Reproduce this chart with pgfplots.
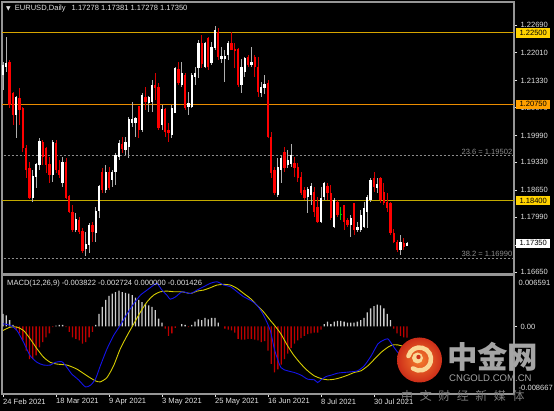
\documentclass[border=0pt]{standalone}
\usepackage{pgfplots}
\pgfplotsset{compat=1.18}
\usepackage{pgfplotstable}
\usepackage{fontspec}
\setmainfont{Liberation Sans}
\newfontfamily\dejavu{DejaVu Sans}
\newfontfamily\cjk{Noto Sans CJK SC}
\definecolor{framec}{RGB}{150,150,150}
\definecolor{labc}{RGB}{225,225,225}
\definecolor{wickup}{RGB}{175,175,175}
\definecolor{canddn}{RGB}{255,0,0}
\definecolor{wickdn}{RGB}{215,0,0}
\definecolor{lineA}{RGB}{215,165,0}
\definecolor{lineB}{RGB}{235,140,0}
\definecolor{lineC}{RGB}{195,170,0}
\definecolor{boxA}{RGB}{255,210,0}
\definecolor{boxB}{RGB}{255,160,0}
\definecolor{fibc}{RGB}{140,140,140}
\definecolor{histup}{RGB}{205,205,205}
\definecolor{histdn}{RGB}{190,0,0}
\definecolor{macdc}{RGB}{20,20,235}
\definecolor{sigc}{RGB}{215,205,0}
\definecolor{wm}{RGB}{165,165,165}
\definecolor{wm2}{RGB}{125,125,125}
\definecolor{logoA}{RGB}{245,125,45}
\definecolor{logoB}{RGB}{205,45,25}
\definecolor{cream}{RGB}{250,215,150}
\newcommand\tf{\fontsize{7.6}{9}\selectfont}

\pgfplotstableread{
i o h l c
0 1.2147 1.2178 1.2110 1.2171
1 1.2166 1.2240 1.2154 1.2176
4 1.2049 1.2095 1.1993 1.2093
9 1.1846 1.1914 1.1836 1.1900
10 1.1897 1.1931 1.1870 1.1929
11 1.1926 1.1993 1.1914 1.1985
15 1.1902 1.1988 1.1885 1.1983
18 1.1882 1.1946 1.1873 1.1934
22 1.1768 1.1809 1.1763 1.1794
25 1.1721 1.1763 1.1704 1.1733
26 1.1731 1.1785 1.1711 1.1780
28 1.1760 1.1824 1.1738 1.1814
29 1.1814 1.1878 1.1797 1.1875
31 1.1865 1.1926 1.1858 1.1909
33 1.1890 1.1914 1.1873 1.1909
34 1.1909 1.1956 1.1878 1.1951
35 1.1946 1.1988 1.1939 1.1980
37 1.1963 1.1995 1.1951 1.1983
38 1.1971 1.2044 1.1944 1.2039
39 1.2029 1.2081 1.2019 1.2039
40 1.2029 1.2044 1.1995 1.2042
42 1.2012 1.2103 1.2007 1.2098
44 1.2078 1.2095 1.2056 1.2093
45 1.2081 1.2134 1.2056 1.2122
48 1.2024 1.2073 1.2012 1.2063
51 1.2000 1.2073 1.1993 1.2066
52 1.2054 1.2166 1.2054 1.2164
54 1.2122 1.2178 1.2117 1.2151
56 1.2068 1.2105 1.2049 1.2078
57 1.2068 1.2151 1.2066 1.2147
58 1.2142 1.2166 1.2122 1.2151
59 1.2164 1.2232 1.2139 1.2225
61 1.2166 1.2227 1.2164 1.2225
63 1.2176 1.2227 1.2171 1.2215
64 1.2213 1.2267 1.2208 1.2257
66 1.2186 1.2215 1.2176 1.2193
67 1.2186 1.2208 1.2129 1.2193
68 1.2196 1.2230 1.2183 1.2225
72 1.2122 1.2186 1.2103 1.2166
73 1.2154 1.2191 1.2142 1.2188
75 1.2171 1.2215 1.2166 1.2178
78 1.2103 1.2129 1.2093 1.2117
79 1.2115 1.2147 1.2100 1.2125
83 1.1853 1.1944 1.1848 1.1922
84 1.1914 1.1951 1.1882 1.1944
86 1.1926 1.1963 1.1919 1.1939
87 1.1929 1.1978 1.1921 1.1951
92 1.1848 1.1873 1.1809 1.1868
93 1.1853 1.1882 1.1829 1.1875
96 1.1787 1.1873 1.1785 1.1846
97 1.1848 1.1885 1.1841 1.1882
100 1.1775 1.1846 1.1772 1.1841
105 1.1780 1.1804 1.1750 1.1797
107 1.1768 1.1787 1.1763 1.1775
108 1.1768 1.1816 1.1763 1.1804
109 1.1775 1.1836 1.1772 1.1821
110 1.1812 1.1853 1.1772 1.1848
111 1.1841 1.1895 1.1836 1.1890
113 1.1870 1.1895 1.1858 1.1880
120 1.1719 1.1755 1.1706 1.1738
122 1.17278 1.17381 1.17278 1.17350
}\upT

\pgfplotstableread{
i o h l c
2 1.2178 1.2183 1.2066 1.2073
3 1.2103 1.2105 1.2024 1.2049
5 1.2090 1.2115 1.2024 1.2061
6 1.2066 1.2068 1.1958 1.1968
7 1.1968 1.1975 1.1895 1.1914
8 1.1919 1.1934 1.1844 1.1846
12 1.1983 1.1988 1.1926 1.1946
13 1.1968 1.1970 1.1907 1.1926
14 1.1929 1.1946 1.1882 1.1902
16 1.1980 1.1988 1.1907 1.1914
17 1.1914 1.1938 1.1895 1.1902
19 1.1934 1.1944 1.1844 1.1846
20 1.1851 1.1853 1.1809 1.1812
21 1.1812 1.1829 1.1763 1.1768
23 1.1792 1.1799 1.1758 1.1763
24 1.1765 1.1772 1.1711 1.1716
27 1.1780 1.1787 1.1738 1.1763
30 1.1909 1.1919 1.1858 1.1865
32 1.1909 1.1921 1.1865 1.1870
36 1.1978 1.1995 1.1956 1.1966
41 1.2071 1.2071 1.1993 1.2012
43 1.2093 1.2117 1.2061 1.2081
46 1.2122 1.2151 1.2085 1.2115
47 1.2117 1.2127 1.2012 1.2017
49 1.2063 1.2066 1.1995 1.2007
50 1.2012 1.2029 1.1983 1.2005
53 1.2161 1.2178 1.2122 1.2127
55 1.2147 1.2151 1.2061 1.2066
60 1.2225 1.2244 1.2164 1.2173
62 1.2237 1.2240 1.2159 1.2166
65 1.2252 1.2262 1.2183 1.2191
69 1.2225 1.2252 1.2208 1.2208
70 1.2210 1.2225 1.2164 1.2205
71 1.2210 1.2213 1.2117 1.2122
74 1.2191 1.2196 1.2166 1.2171
76 1.2191 1.2196 1.2142 1.2166
77 1.2166 1.2191 1.2093 1.2105
80 1.2127 1.2134 1.1993 1.1995
81 1.1995 1.2007 1.1895 1.1907
82 1.1914 1.1922 1.1853 1.1858
85 1.1958 1.1970 1.1909 1.1919
88 1.1931 1.1946 1.1897 1.1919
89 1.1922 1.1931 1.1885 1.1895
90 1.1897 1.1909 1.1853 1.1858
91 1.1865 1.1873 1.1841 1.1846
94 1.1860 1.1873 1.1799 1.1812
95 1.1824 1.1848 1.1785 1.1787
98 1.1875 1.1882 1.1841 1.1858
99 1.1858 1.1878 1.1792 1.1797
101 1.1836 1.1841 1.1799 1.1804
103 1.1829 1.1829 1.1768 1.1787
104 1.1792 1.1797 1.1775 1.1780
106 1.1834 1.1834 1.1755 1.1768
112 1.1895 1.1909 1.1860 1.1873
114 1.1895 1.1897 1.1834 1.1841
115 1.1860 1.1882 1.1829 1.1834
116 1.1836 1.1858 1.1812 1.1821
117 1.1834 1.1836 1.1755 1.1760
118 1.1760 1.1770 1.1736 1.1738
119 1.1738 1.1743 1.1714 1.1719
121 1.1736 1.1748 1.1719 1.1726
}\dnT

\pgfplotstableread{
i o h l c
102 1.1807 1.1824 1.1792 1.1807
}\gnT

\pgfplotstableread{
i v
0 0.0016
1 0.0014
2 0.0008
3 0.0002
4 -0.0005
5 -0.0009
6 -0.0018
7 -0.0031
8 -0.0042
9 -0.0042
10 -0.0037
11 -0.0027
12 -0.0020
13 -0.0014
14 -0.0009
15 -0.0001
16 0.0001
17 0.0002
18 0.0002
19 -0.0001
20 -0.0007
21 -0.0014
22 -0.0016
23 -0.0018
24 -0.0022
25 -0.0020
26 -0.0014
27 -0.0007
28 0.0002
29 0.0016
30 0.0025
31 0.0034
32 0.0039
33 0.0042
34 0.0044
35 0.0046
36 0.0044
37 0.0043
38 0.0042
39 0.0040
40 0.0037
41 0.0034
42 0.0031
43 0.0029
44 0.0027
45 0.0025
46 0.0021
47 0.0010
48 0.0005
49 -0.0003
50 -0.0012
51 -0.0009
52 -0.0002
54 0.0003
55 0.0002
56 -0.0001
57 0.0002
58 0.0006
59 0.0009
60 0.0008
61 0.0011
62 0.0009
63 0.0011
64 0.0011
65 0.0005
67 -0.0003
68 -0.0004
69 -0.0005
70 -0.0008
71 -0.0016
72 -0.0017
73 -0.0017
74 -0.0016
75 -0.0016
76 -0.0017
77 -0.0018
78 -0.0020
79 -0.0019
80 -0.0031
81 -0.0048
82 -0.0059
83 -0.0055
84 -0.0049
85 -0.0042
86 -0.0035
87 -0.0028
88 -0.0022
89 -0.0018
90 -0.0015
91 -0.0012
92 -0.0010
93 -0.0009
94 -0.0008
95 -0.0008
96 -0.0004
97 0.0003
98 0.0006
99 0.0003
100 0.0006
101 0.0007
102 0.0007
103 0.0006
104 0.0005
105 0.0005
106 0.0005
107 0.0006
108 0.0008
109 0.0011
110 0.0018
111 0.0023
112 0.0026
113 0.0028
114 0.0027
115 0.0023
116 0.0016
117 0.0008
118 -0.0003
119 -0.0009
120 -0.0012
121 -0.0014
122 -0.001426
}\histT

\pgfplotsset{mt/.style={
  scale only axis, width=512bp, xmin=-0.3, xmax=154.3,
  at={(0bp,0bp)}, anchor=south west,
  axis line style={draw=framec, line width=1.2bp},
  axis background/.style={fill=black},
  tick style={draw=labc, line width=0.6bp},
  tick align=outside, major tick length=3bp,
  ticklabel style={font=\tf, text=labc},
  ytick pos=right, yticklabel pos=right,
  scaled ticks=false,
}}

\begin{document}
\begin{tikzpicture}
\fill[black] (0bp,0bp) rectangle (554bp,411bp);

% ---------------- main price panel ----------------
\begin{scope}[shift={(2bp,137bp)}]
\begin{axis}[mt, height=272bp,
  ymin=1.16601, ymax=1.23252, xtick=\empty,
  ytick={1.1665,1.1731,1.1799,1.1865,1.1933,1.1999,1.2067,1.2133,1.2201,1.2269},
  yticklabels={1.16650,1.17310,1.17990,1.18650,1.19330,1.19990,1.20670,1.21330,1.22010,1.22690},
]
\addplot[lineA, line width=0.9bp] coordinates {(-1,1.2250) (160,1.2250)};
\addplot[lineB, line width=0.9bp] coordinates {(-1,1.2075) (160,1.2075)};
\addplot[lineC, line width=0.9bp] coordinates {(-1,1.1840) (160,1.1840)};
\addplot[fibc, line width=0.8bp, dash pattern=on 2bp off 2bp] coordinates {(-1,1.19502) (160,1.19502)};
\addplot[fibc, line width=0.8bp, dash pattern=on 2bp off 2bp] coordinates {(-1,1.16990) (160,1.16990)};
% wicks
\addplot[draw=none, error bars/.cd, y dir=both, y explicit, error mark=none,
  error bar style={draw=wickup, line width=0.8bp}]
  table[x=i, y expr={(\thisrow{h}+\thisrow{l})/2}, y error expr={(\thisrow{h}-\thisrow{l})/2}] {\upT};
\addplot[draw=none, error bars/.cd, y dir=both, y explicit, error mark=none,
  error bar style={draw=wickdn, line width=0.8bp}]
  table[x=i, y expr={(\thisrow{h}+\thisrow{l})/2}, y error expr={(\thisrow{h}-\thisrow{l})/2}] {\dnT};
\addplot[draw=none, error bars/.cd, y dir=both, y explicit, error mark=none,
  error bar style={draw=green!80!black, line width=0.8bp}]
  table[x=i, y expr={(\thisrow{h}+\thisrow{l})/2}, y error expr={(\thisrow{h}-\thisrow{l})/2}] {\gnT};
% bodies
\addplot[draw=none, error bars/.cd, y dir=both, y explicit, error mark=none,
  error bar style={draw=white, line width=2.3bp}]
  table[x=i, y expr={(\thisrow{o}+\thisrow{c})/2}, y error expr={max(abs(\thisrow{c}-\thisrow{o})/2,0.00004)}] {\upT};
\addplot[draw=none, error bars/.cd, y dir=both, y explicit, error mark=none,
  error bar style={draw=canddn, line width=2.3bp}]
  table[x=i, y expr={(\thisrow{o}+\thisrow{c})/2}, y error expr={max(abs(\thisrow{c}-\thisrow{o})/2,0.00004)}] {\dnT};
\addplot[draw=none, error bars/.cd, y dir=both, y explicit, error mark=none,
  error bar style={draw=green!80!black, line width=2.3bp}]
  table[x=i, y expr={(\thisrow{o}+\thisrow{c})/2}, y error expr={max(abs(\thisrow{c}-\thisrow{o})/2,0.00004)}] {\gnT};
\coordinate (pA) at (axis cs:154.3,1.2250);
\coordinate (pB) at (axis cs:154.3,1.2075);
\coordinate (pC) at (axis cs:154.3,1.1840);
\coordinate (pD) at (axis cs:154.3,1.17350);
\coordinate (fA) at (axis cs:154.3,1.19502);
\coordinate (fB) at (axis cs:154.3,1.16990);
\end{axis}
\end{scope}

% ---------------- MACD panel ----------------
\begin{scope}[shift={(2bp,17bp)}]
\begin{axis}[mt, height=119bp,
  ymin=-0.008667, ymax=0.006591,
  ytick={0}, yticklabels={0.00},
  xtick={0,16,32,48,64,80,96,112},
  xticklabels={24 Feb 2021,18 Mar 2021,9 Apr 2021,3 May 2021,25 May 2021,16 Jun 2021,8 Jul 2021,30 Jul 2021},
  xtick pos=left, xticklabel pos=lower,
  xticklabel style={anchor=north west, inner xsep=0pt, inner ysep=1.5bp},
]
\addplot[ybar, bar width=1.3bp, bar shift=0pt, fill=histup, draw=none,
  restrict y to domain=0.00001:1] table[x=i, y=v] {\histT};
\addplot[ybar, bar width=1.3bp, bar shift=0pt, fill=histdn, draw=none,
  restrict y to domain=-1:-0.00001] table[x=i, y=v] {\histT};
\addplot[sigc, line width=0.9bp, smooth, tension=0.4] coordinates {
(0,-0.00052) (2.2,-0.00009) (4.2,-0.00009) (6.2,-0.00052) (8.2,-0.00159) (10.3,-0.00289)
(12.3,-0.00397) (14.3,-0.00461) (16.3,-0.00483) (19.3,-0.00496) (22.3,-0.00547) (25.4,-0.00634)
(27.9,-0.00698) (29.4,-0.00711) (31.4,-0.00655) (33.4,-0.00504) (35.4,-0.00289) (37.5,-0.00116)
(39.5,0.00034) (41.5,0.00185) (43.5,0.00315) (45.5,0.00401) (47.5,0.00444) (49.5,0.00453)
(51.6,0.00444) (54.1,0.00444) (56.6,0.00422) (58.6,0.00453) (60.6,0.00466) (62.6,0.00496)
(64.6,0.00530) (66.7,0.00539) (68.7,0.00530) (70.7,0.00487) (72.7,0.00422) (74.7,0.00358)
(76.7,0.00272) (78.7,0.00185) (80.7,0.00078) (82.0,0.00013) (83.9,-0.00095) (85.9,-0.00246)
(87.9,-0.00375) (90.0,-0.00483) (92.0,-0.00569) (94.0,-0.00634) (96.0,-0.00668) (98.1,-0.00685)
(100.1,-0.00677) (102.1,-0.00655) (104.1,-0.00625) (106.1,-0.00590) (108.1,-0.00569) (110.2,-0.00504)
(112.2,-0.00418) (114.2,-0.00332) (116.2,-0.00267) (117.7,-0.00237) (119.2,-0.00237) (120.7,-0.00254)
(122,-0.002724)};
\addplot[macdc, line width=0.9bp, smooth, tension=0.4] coordinates {
(0,0.00034) (2.2,0.00013) (4.2,-0.00052) (6.2,-0.00203) (8.2,-0.00375) (10.3,-0.00461)
(12.3,-0.00496) (14.3,-0.00496) (15.8,-0.00461) (17.8,-0.00453) (19.3,-0.00526) (20.8,-0.00612)
(22.8,-0.00685) (24.9,-0.00776) (26.4,-0.00754) (27.9,-0.00677) (29.4,-0.00504) (31.4,-0.00289)
(33.4,-0.00116) (35.4,0.00013) (37.5,0.00164) (39.5,0.00293) (41.5,0.00401) (43.5,0.00466)
(45.5,0.00530) (46.5,0.00552) (48.0,0.00466) (49.5,0.00401) (50.5,0.00349) (52.1,0.00379)
(54.1,0.00444) (56.6,0.00422) (58.6,0.00466) (60.6,0.00509) (62.6,0.00552) (64.6,0.00573)
(66.7,0.00530) (68.7,0.00509) (70.7,0.00444) (72.7,0.00379) (74.7,0.00336) (76.7,0.00272)
(78.7,0.00142) (80.7,-0.00052) (82.0,-0.00300) (83.9,-0.00526) (85.9,-0.00569) (87.9,-0.00590)
(90.0,-0.00625) (92.0,-0.00677) (94.0,-0.00685) (95.0,-0.00720) (96.0,-0.00685) (97.6,-0.00642)
(99.1,-0.00625) (101.1,-0.00599) (103.1,-0.00590) (105.1,-0.00582) (107.1,-0.00569) (109.1,-0.00504)
(111.2,-0.00375) (113.2,-0.00224) (114.7,-0.00181) (116.2,-0.00159) (117.7,-0.00246) (119.2,-0.00332)
(120.7,-0.00375) (122,-0.003822)};
\end{axis}
\end{scope}

% ---------------- texts ----------------
\node[anchor=west, text=labc, inner sep=0pt] at (6bp,402.5bp)
  {{\dejavu\fontsize{6}{6}\selectfont ▼}\hspace{4bp}\tf EURUSD,Daily\hspace{6bp}1.17278 1.17381 1.17278 1.17350};
\node[anchor=west, text=labc, inner sep=0pt, font=\tf] at (7bp,127bp)
  {MACD(12,26,9) -0.003822 -0.002724 0.000000 -0.001426};

\tikzset{pbox/.style={anchor=west, inner xsep=0pt, inner ysep=0pt, minimum width=34bp,
  minimum height=9.5bp, font=\tf, text=black}}
\node[pbox, fill=boxA] at ([xshift=2bp]pA) {1.22500};
\node[pbox, fill=boxB] at ([xshift=2bp]pB) {1.20750};
\node[pbox, fill=boxA] at ([xshift=2bp]pC) {1.18400};
\node[pbox, fill=white] at ([xshift=2bp]pD) {1.17350};
\node[anchor=south east, text=fibc, font=\tf, inner sep=1bp] at ([xshift=-0.5bp]fA) {23.6 = 1.19502};
\node[anchor=south east, text=fibc, font=\tf, inner sep=1bp] at ([xshift=-0.5bp]fB) {38.2 = 1.16990};
\node[anchor=west, text=labc, font=\tf, inner sep=0pt] at (518.5bp,128bp) {0.006591};
\node[anchor=west, text=labc, font=\tf, inner sep=0pt] at (518.5bp,23bp) {-0.008667};

% ---------------- watermark ----------------
\shade[inner color=logoA, outer color=logoB] (419.5bp,51bp) circle (22.5bp);
\draw[cream, line width=4.5bp, line cap=round] (419.5bp,52bp)++(165:11.5bp) arc[start angle=165, end angle=-125, radius=11.5bp];
\fill[cream] (417.5bp,53bp) circle (5.5bp);
\fill[logoB] (418.5bp,54bp) circle (2.2bp);
\node[anchor=west, text=wm, inner sep=0pt] at (447bp,54bp) {\cjk\bfseries\fontsize{30.5}{31}\selectfont 中金网};
\node[anchor=west, text=wm, inner sep=0pt] at (449bp,32.5bp) {\fontsize{9.6}{10}\selectfont CNGOLD.COM.CN};
\node[anchor=west, text=wm2, inner sep=0pt] at (401bp,15bp) {\cjk\fontsize{12}{12}\selectfont 中\hspace{6.6bp}文\hspace{6.6bp}财\hspace{6.6bp}经\hspace{6.6bp}新\hspace{6.6bp}媒\hspace{6.6bp}体};

\pgfresetboundingbox
\useasboundingbox (0bp,0bp) rectangle (554bp,411bp);
\end{tikzpicture}
\end{document}
